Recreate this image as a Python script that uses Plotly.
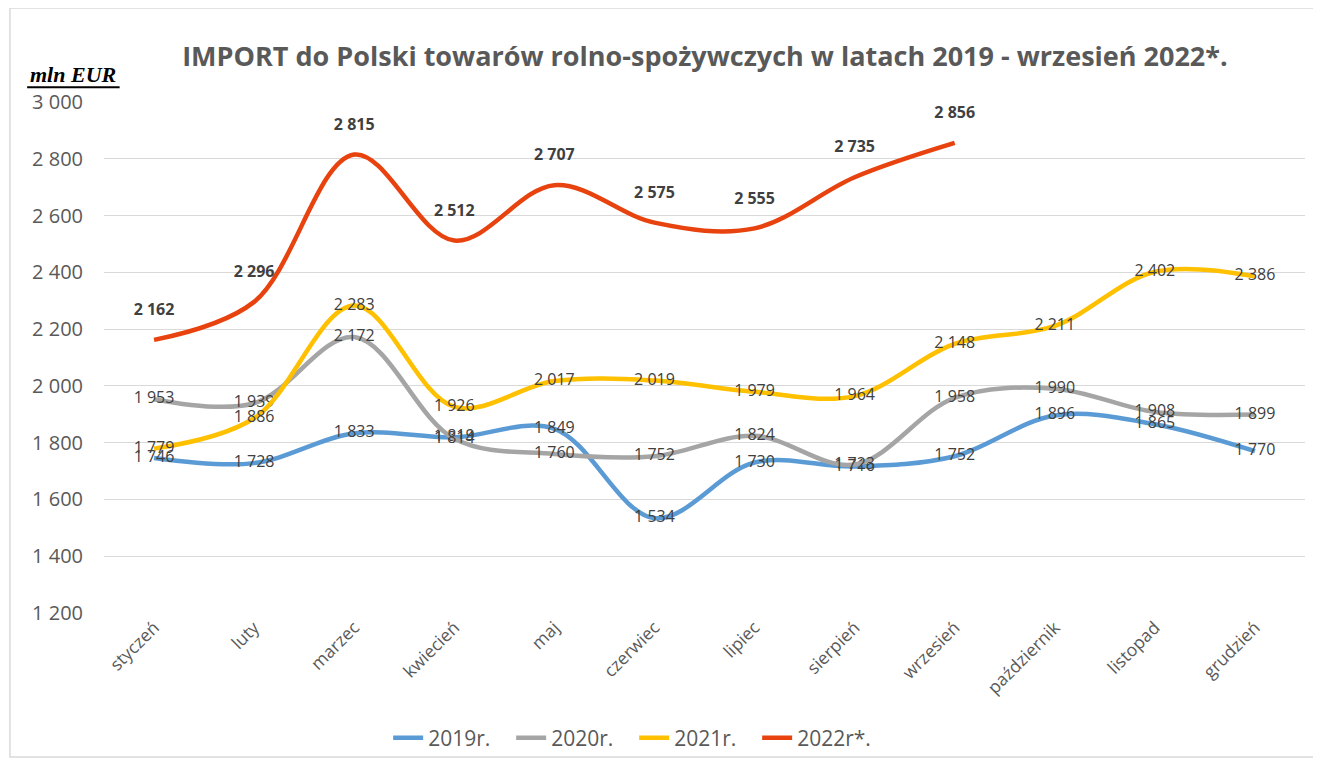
import plotly.graph_objects as go

months = ["styczeń", "luty", "marzec", "kwiecień", "maj", "czerwiec", "lipiec",
          "sierpień", "wrzesień", "październik", "listopad", "grudzień"]
v2019 = [1746, 1728, 1833, 1819, 1849, 1534, 1730, 1716, 1752, 1896, 1865, 1770]
v2020 = [1953, 1939, 2172, 1814, 1760, 1752, 1824, 1723, 1958, 1990, 1908, 1899]
v2021 = [1779, 1886, 2283, 1926, 2017, 2019, 1979, 1964, 2148, 2211, 2402, 2386]
v2022 = [2162, 2296, 2815, 2512, 2707, 2575, 2555, 2735, 2856]

series = [
    ("2019r.", v2019, "#5b9bd5"),
    ("2020r.", v2020, "#a5a5a5"),
    ("2021r.", v2021, "#ffc000"),
    ("2022r*.", v2022, "#e8420e"),
]

def fmt(v):
    return f"{v:,}".replace(",", " ")

FONT = "Open Sans"
fig = go.Figure()
for name, vals, col in series:
    bold = name.startswith("2022")
    fig.add_trace(go.Scatter(
        x=months[:len(vals)], y=vals, name=name,
        mode="lines+text",
        line=dict(color=col, width=4.5, shape="spline", smoothing=1.0),
        text=[fmt(v) for v in vals],
        texttemplate="<b>%{text}</b><br> " if bold else "%{text}",
        textposition="top center" if bold else "middle center",
        textfont=dict(family=FONT, size=16, color="#404040"),
        hoverinfo="x+y",
    ))

fig.update_layout(
    width=1321, height=762,
    paper_bgcolor="white", plot_bgcolor="white",
    margin=dict(l=96, r=24, t=94, b=157, autoexpand=False),
    separators=", ",
    title=dict(text="<b>IMPORT do Polski towarów rolno-spożywczych w latach 2019 - wrzesień 2022*.</b>",
               x=0.5276, xanchor="center", y=0.936, yanchor="middle",
               font=dict(family=FONT, size=27, color="#595959")),
    font=dict(family=FONT, color="#595959"),
    legend=dict(orientation="h", x=0.474, xanchor="center", xref="container",
                y=0.042, yanchor="middle", yref="container",
                bgcolor="rgba(0,0,0,0)",
                font=dict(family=FONT, size=21, color="#595959"),
                entrywidth=78, entrywidthmode="pixels", tracegroupgap=0),
    showlegend=True,
)
fig.update_xaxes(
    range=[-0.5, 11.5], tickangle=-45, showgrid=False, showline=False,
    ticks="", tickfont=dict(family=FONT, size=17.5, color="#595959"), automargin=False,
)
fig.update_yaxes(
    range=[1200, 3000], dtick=200, tickformat=",d", showgrid=True,
    gridcolor="#d9d9d9", gridwidth=1.3, zeroline=False, showline=False,
    tickfont=dict(family=FONT, size=20, color="#595959"), ticklabelstandoff=20,
    automargin=False,
)
fig.add_annotation(
    text="<b><i>mln EUR</i></b>", xref="paper", yref="paper",
    x=-0.026, y=1.053, xanchor="center", yanchor="middle", showarrow=False,
    font=dict(family="Liberation Serif", size=22, color="#000000"),
)
fig.add_shape(type="line", xref="paper", yref="paper",
              x0=-0.064, x1=0.013, y0=1.029, y1=1.029,
              line=dict(color="black", width=2))
fig.add_shape(type="rect", xref="paper", yref="paper",
              x0=-0.0783, x1=1.0108, y0=-0.282, y1=1.184,
              line=dict(color="#d9d9d9", width=1.5), layer="below")

fig.write_html("out.html")
